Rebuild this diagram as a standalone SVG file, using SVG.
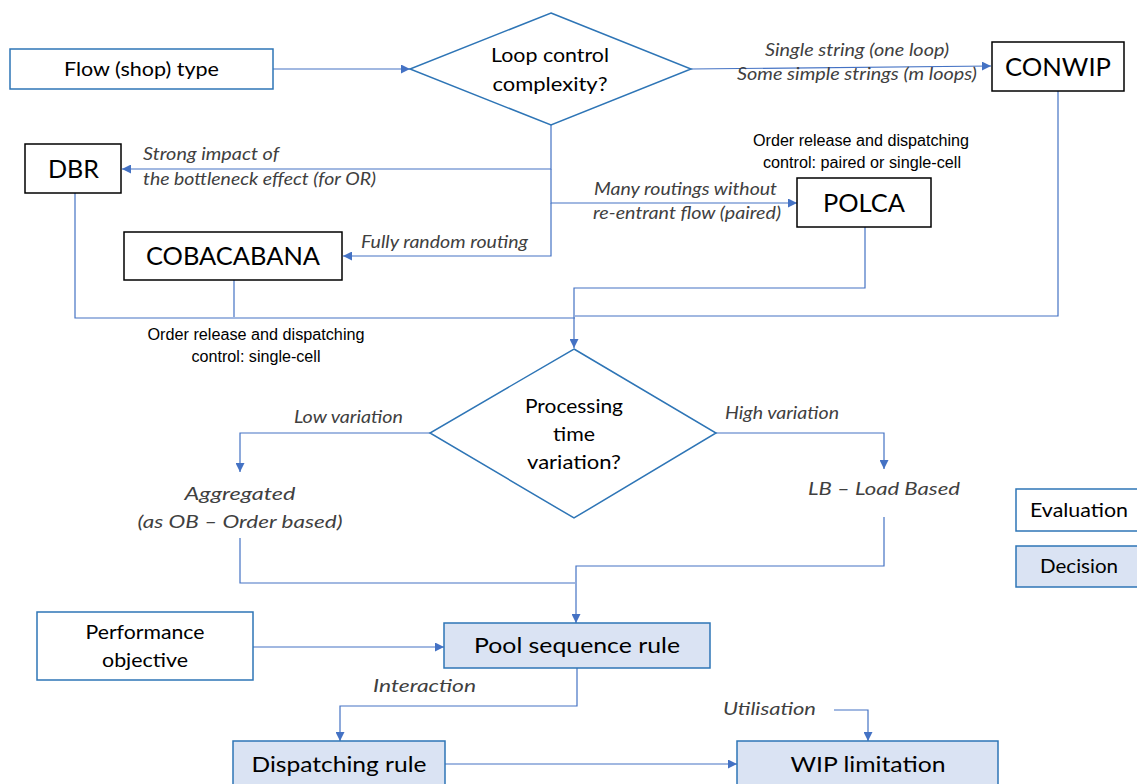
<svg xmlns="http://www.w3.org/2000/svg" width="1137" height="784" viewBox="0 0 1137 784">
  <defs>
    <marker id="arr" viewBox="0 0 10 10" refX="10" refY="5" markerWidth="9" markerHeight="9" markerUnits="userSpaceOnUse" orient="auto">
      <path d="M0,0 L10,5 L0,10 z" fill="#4472C4"/>
    </marker>
    <style>
      .eval { fill: #ffffff; stroke: #2E75B6; stroke-width: 1.5; }
      .dec { fill: #DAE3F3; stroke: #2E75B6; stroke-width: 1.5; }
      .meth { fill: #ffffff; stroke: #000000; stroke-width: 1.5; }
      .dia { fill: #ffffff; stroke: #2E75B6; stroke-width: 1.5; }
      .t { font-family: Lato, "Open Sans", sans-serif; fill: #000000; text-anchor: middle; }
      .big { font-size: 25px; }
      .mid { font-size: 20px; }
      .lab { font-family: Lato, "Open Sans", sans-serif; font-style: italic; font-size: 17px; fill: #404040; }
      .nar { font-family: "Liberation Sans Narrow", "Liberation Sans", sans-serif; font-size: 16px; fill: #000000; text-anchor: middle; }
      .con { fill: none; stroke: #4472C4; stroke-width: 1.2; }
      .arw { marker-end: url(#arr); }
    </style>
  </defs>

  <rect width="1137" height="784" fill="#ffffff"/>

  <!-- connectors -->
  <g id="connectors">
    <path class="con arw" d="M273,69 H410"/>
    <path class="con arw" d="M691,69 L991,66"/>
    <path class="con arw" d="M551,125 V169 H122"/>
    <path class="con arw" d="M551,169 V203 H797"/>
    <path class="con arw" d="M551,203 V256 H343"/>
    <path class="con" d="M75,193 V318 H575"/>
    <path class="con" d="M234,280 V317"/>
    <path class="con" d="M1058,91 V316 H575"/>
    <path class="con arw" d="M865,227 V288 H574 V348"/>
    <path class="con arw" d="M430,433 H240 V472"/>
    <path class="con arw" d="M716,433 H884 V469"/>
    <path class="con" d="M240,538 V583 H575"/>
    <path class="con arw" d="M884,517 V566 H576 V623"/>
    <path class="con arw" d="M253,647 H444"/>
    <path class="con arw" d="M577,668 V706 H340 V741"/>
    <path class="con arw" d="M445,764 H737"/>
    <path class="con arw" d="M834,710 H868 V741"/>
  </g>

  <!-- connector labels -->
  <g id="labels">
    <text class="lab" x="765" y="56" textLength="184" lengthAdjust="spacingAndGlyphs">Single string (one loop)</text>
    <text class="lab" x="737" y="80" textLength="240" lengthAdjust="spacingAndGlyphs">Some simple strings (m loops)</text>
    <text class="lab" x="143" y="160" textLength="136" lengthAdjust="spacingAndGlyphs">Strong impact of</text>
    <text class="lab" x="143" y="185" textLength="233" lengthAdjust="spacingAndGlyphs">the bottleneck effect (for OR)</text>
    <text class="lab" x="594" y="195" textLength="183" lengthAdjust="spacingAndGlyphs">Many routings without</text>
    <text class="lab" x="593" y="219" textLength="188" lengthAdjust="spacingAndGlyphs">re-entrant flow (paired)</text>
    <text class="lab" x="361" y="248" textLength="167" lengthAdjust="spacingAndGlyphs">Fully random routing</text>
    <text class="nar" x="861" y="146" textLength="216" lengthAdjust="spacingAndGlyphs">Order release and dispatching</text>
    <text class="nar" x="862" y="168" textLength="198" lengthAdjust="spacingAndGlyphs">control: paired or single-cell</text>
    <text class="nar" x="256" y="340" textLength="217" lengthAdjust="spacingAndGlyphs">Order release and dispatching</text>
    <text class="nar" x="256" y="362" textLength="129" lengthAdjust="spacingAndGlyphs">control: single-cell</text>
    <text class="lab" x="294" y="423" textLength="109" lengthAdjust="spacingAndGlyphs">Low variation</text>
    <text class="lab" x="725" y="419" textLength="114" lengthAdjust="spacingAndGlyphs">High variation</text>
    <text class="lab" x="373" y="692" textLength="103" lengthAdjust="spacingAndGlyphs">Interaction</text>
    <text class="lab" x="723" y="715" textLength="93" lengthAdjust="spacingAndGlyphs">Utilisation</text>
  </g>

  <!-- nodes -->
  <g id="flow-type">
    <rect class="eval" x="10" y="49" width="263" height="40"/>
    <text class="t mid" x="141.5" y="76" textLength="155" lengthAdjust="spacingAndGlyphs">Flow (shop) type</text>
  </g>

  <g id="loop-control">
    <polygon class="dia" points="551,13 691,69 551,125 410,69"/>
    <text class="t mid" x="550" y="62" textLength="118" lengthAdjust="spacingAndGlyphs">Loop control</text>
    <text class="t mid" x="550" y="91" textLength="115" lengthAdjust="spacingAndGlyphs">complexity?</text>
  </g>

  <g id="conwip">
    <rect class="meth" x="992" y="42" width="132" height="49"/>
    <text class="t big" x="1058" y="76" textLength="106" lengthAdjust="spacingAndGlyphs">CONWIP</text>
  </g>

  <g id="dbr">
    <rect class="meth" x="25" y="144" width="96" height="49"/>
    <text class="t big" x="73.5" y="178" textLength="51" lengthAdjust="spacingAndGlyphs">DBR</text>
  </g>

  <g id="polca">
    <rect class="meth" x="797" y="178" width="134" height="49"/>
    <text class="t big" x="864" y="212" textLength="82" lengthAdjust="spacingAndGlyphs">POLCA</text>
  </g>

  <g id="cobacabana">
    <rect class="meth" x="124" y="232" width="218" height="48"/>
    <text class="t big" x="233" y="265" textLength="174" lengthAdjust="spacingAndGlyphs">COBACABANA</text>
  </g>

  <g id="processing-time">
    <polygon class="dia" points="574,349 716,433 574,518 430,433"/>
    <text class="t mid" x="574" y="413" textLength="98" lengthAdjust="spacingAndGlyphs">Processing</text>
    <text class="t mid" x="574" y="441" textLength="42" lengthAdjust="spacingAndGlyphs">time</text>
    <text class="t mid" x="574" y="469" textLength="94" lengthAdjust="spacingAndGlyphs">variation?</text>
  </g>

  <g id="aggregated">
    <text class="lab" x="240" y="500" font-size="20" text-anchor="middle" textLength="111" lengthAdjust="spacingAndGlyphs">Aggregated</text>
    <text class="lab" x="240" y="528" font-size="20" text-anchor="middle" textLength="205" lengthAdjust="spacingAndGlyphs">(as OB – Order based)</text>
  </g>

  <g id="load-based">
    <text class="lab" x="884" y="495" font-size="20" text-anchor="middle" textLength="152" lengthAdjust="spacingAndGlyphs">LB – Load Based</text>
  </g>

  <g id="performance-objective">
    <rect class="eval" x="37" y="612" width="216" height="68"/>
    <text class="t" font-size="19" x="145" y="639" textLength="119" lengthAdjust="spacingAndGlyphs">Performance</text>
    <text class="t" font-size="19" x="145" y="667" textLength="86" lengthAdjust="spacingAndGlyphs">objective</text>
  </g>

  <g id="pool-sequence">
    <rect class="dec" x="444" y="623" width="266" height="45"/>
    <text class="t" font-size="22" x="577" y="653" textLength="206" lengthAdjust="spacingAndGlyphs">Pool sequence rule</text>
  </g>

  <g id="dispatching-rule">
    <rect class="dec" x="233" y="741" width="212" height="50"/>
    <text class="t" font-size="22" x="339" y="772" textLength="175" lengthAdjust="spacingAndGlyphs">Dispatching rule</text>
  </g>

  <g id="wip-limitation">
    <rect class="dec" x="737" y="741" width="261" height="50"/>
    <text class="t" font-size="22" x="868" y="772" textLength="155" lengthAdjust="spacingAndGlyphs">WIP limitation</text>
  </g>

  <g id="legend-evaluation">
    <rect class="eval" x="1016" y="489" width="130" height="42"/>
    <text class="t" font-size="19" x="1079" y="517" textLength="98" lengthAdjust="spacingAndGlyphs">Evaluation</text>
  </g>

  <g id="legend-decision">
    <rect class="dec" x="1016" y="546" width="130" height="41"/>
    <text class="t" font-size="19" x="1079" y="573" textLength="78" lengthAdjust="spacingAndGlyphs">Decision</text>
  </g>
</svg>
